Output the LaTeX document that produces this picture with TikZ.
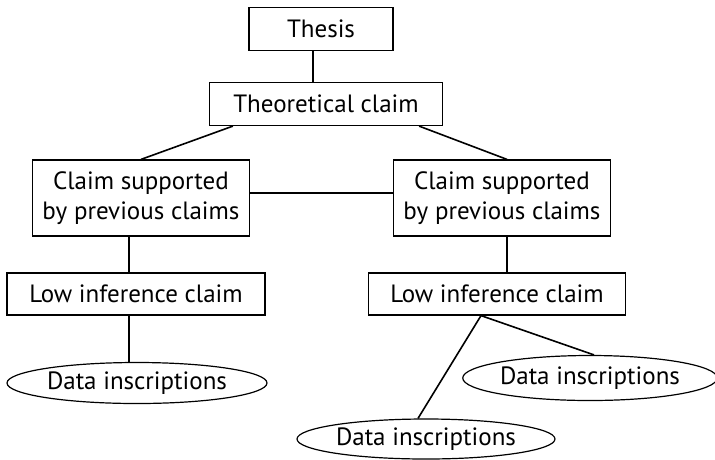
\documentclass[tikz,border=0pt]{standalone}
\usepackage{fontspec}
\setmainfont{PT Sans}
\usepackage{tikz}
\usetikzlibrary{shapes.geometric}

\begin{document}
\begin{tikzpicture}[x=1pt, y=-1pt,
  box/.style={draw, line width=1.2pt, align=center, inner sep=0pt,
    font=\fontsize{25}{30}\selectfont},
  data/.style={draw, ellipse, line width=1.2pt, inner sep=0pt,
    font=\fontsize{25}{30}\selectfont},
  link/.style={line width=1.6pt}]
\useasboundingbox (0,0) rectangle (715,459);

\node[box, minimum width=144pt, minimum height=43pt] (thesis) at (321,29) {Thesis};
\node[box, minimum width=233pt, minimum height=43pt] (theory) at (326,104) {Theoretical claim};

\node[box, minimum width=217pt, minimum height=76pt] (claimL) at (141,198) {Claim supported\\by previous claims};
\node[box, minimum width=217pt, minimum height=76pt] (claimR) at (502,198) {Claim supported\\by previous claims};

\node[box, minimum width=258pt, minimum height=42pt] (lowL) at (136,294) {Low inference claim};
\node[box, minimum width=257pt, minimum height=42pt] (lowR) at (497,294) {Low inference claim};

\node[data, minimum width=260pt, minimum height=41pt] (dataL) at (137,383) {Data inscriptions};
\node[data, minimum width=250pt, minimum height=45pt] (dataR) at (590,378) {Data inscriptions};
\node[data, minimum width=258pt, minimum height=40pt] (dataB) at (426,439) {Data inscriptions};

\draw[link] ([xshift=-8pt]thesis.south) coordinate (a) -- (a |- theory.north);
\draw[link] ([xshift=24pt]theory.south west) -- (claimL.north);
\draw[link] ([xshift=-24pt]theory.south east) -- ([xshift=5pt]claimR.north);
\draw[link] ([yshift=5pt]claimL.east) -- ([yshift=5pt]claimR.west);

\draw[link] ([xshift=-12pt]claimL.south) coordinate (b) -- (b |- lowL.north);
\draw[link] ([xshift=5pt]claimR.south) coordinate (c) -- (c |- lowR.north);

\draw[link] (b |- lowL.south) -- (b |- dataL.north);
\draw[link] ([xshift=-16pt]lowR.south) coordinate (d) -- ([xshift=4pt]dataR.north);
\draw[link] (d) -- ([xshift=-8pt]dataB.north);
\end{tikzpicture}
\end{document}
